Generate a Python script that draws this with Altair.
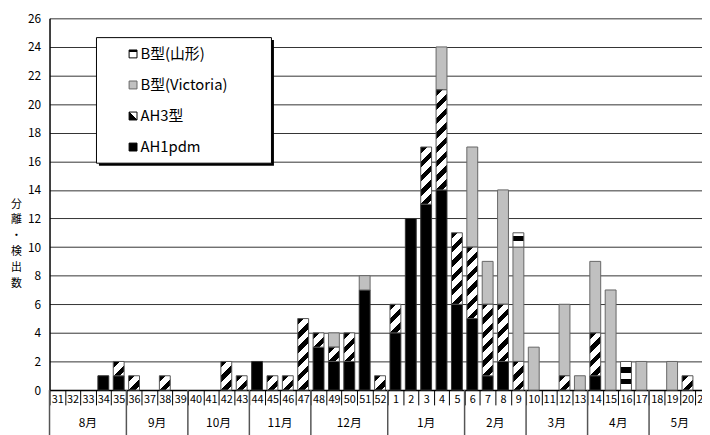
import altair as alt
import pandas as pd

FONT = "Noto Sans CJK JP"

# ---------------- data ----------------
weeks = ["31", "32", "33", "34", "35", "36", "37", "38", "39", "40", "41", "42",
         "43", "44", "45", "46", "47", "48", "49", "50", "51", "52",
         "1", "2", "3", "4", "5", "6", "7", "8", "9", "10", "11", "12", "13",
         "14", "15", "16", "17", "18", "19", "20", "21"]

ah1pdm = [0, 0, 0, 1, 1, 0, 0, 0, 0, 0, 0, 0, 0, 2, 0, 0, 0, 3, 2, 2, 7, 0,
          4, 12, 13, 14, 6, 5, 1, 2, 0, 0, 0, 0, 0, 1, 0, 0, 0, 0, 0, 0, 0]
ah3 = [0, 0, 0, 0, 1, 1, 0, 1, 0, 0, 0, 2, 1, 0, 1, 1, 5, 1, 1, 2, 0, 1,
       2, 0, 4, 7, 5, 5, 5, 4, 2, 0, 0, 1, 0, 3, 0, 0, 0, 0, 0, 1, 0]
victoria = [0, 0, 0, 0, 0, 0, 0, 0, 0, 0, 0, 0, 0, 0, 0, 0, 0, 0, 1, 0, 1, 0,
            0, 0, 0, 3, 0, 7, 3, 8, 8, 3, 0, 5, 1, 5, 7, 0, 2, 0, 2, 0, 0]
yamagata = [0, 0, 0, 0, 0, 0, 0, 0, 0, 0, 0, 0, 0, 0, 0, 0, 0, 0, 0, 0, 0, 0,
            0, 0, 0, 0, 0, 0, 0, 0, 1, 0, 0, 0, 0, 0, 0, 2, 0, 0, 0, 0, 0]

types = ["AH1pdm", "AH3", "Victoria", "Yamagata"]
series = [ah1pdm, ah3, victoria, yamagata]

months = ["8月", "9月", "10月", "11月", "12月", "1月", "2月", "3月", "4月", "5月"]
month_first = ["31", "36", "40", "44", "48", "1", "6", "10", "14", "18"]
month_len = [5, 4, 4, 4, 5, 5, 4, 4, 4, 4]

legend_labels = ["B型(山形)", "B型(Victoria)", "AH3型", "AH1pdm"]

y_ticks = [0, 2, 4, 6, 8, 10, 12, 14, 16, 18, 20, 22, 24, 26]

# ---------------- tables ----------------
rows = []
for ti, (t, vals) in enumerate(zip(types, series)):
    for w, n in zip(weeks, vals):
        rows.append({"week": w, "type": t, "n": n, "ord": ti})
df = pd.DataFrame(rows)

mrows = []
for m, f, L in zip(months, month_first, month_len):
    idx = weeks.index(f)
    mrows.append({"month": m, "first": f, "anchor": weeks[idx + 2], "len": L})
mdf = pd.DataFrame(mrows)

leg_df = pd.DataFrame({"label": legend_labels, "i": list(range(len(legend_labels)))})

# ---------------- layout / style ----------------
W, H = 660, 376
STEP = 15.55
XR = STEP * len(weeks)
BAR_W = 11
UNIT = H / 26.0


def hatch(v, period=UNIT, frac=0.45):
    w = BAR_W
    h = v * UNIT
    k = (w + h) * w / (w * w + h * h)
    n = (w + h) / period
    stops = []
    i = 0
    while i < n:
        a = i / n
        b = min((i + frac) / n, 1.0)
        c = min((i + 1) / n, 1.0)
        stops += [alt.GradientStop(color="black", offset=a),
                  alt.GradientStop(color="black", offset=b),
                  alt.GradientStop(color="white", offset=b),
                  alt.GradientStop(color="white", offset=c)]
        i += 1
    return alt.LinearGradient(gradient="linear", stops=stops,
                              x1=0, y1=0, x2=k, y2=k * h / w)


def bands(pattern):
    stops = []
    for col, a, b in pattern:
        stops += [alt.GradientStop(color=col, offset=a),
                  alt.GradientStop(color=col, offset=b)]
    return alt.LinearGradient(gradient="linear", stops=stops, x1=0, y1=0, x2=0, y2=1)


yam_fill = {
    1: bands([("white", 0, 0.2), ("black", 0.2, 0.6), ("white", 0.6, 1)]),
    2: bands([("white", 0, 0.2), ("black", 0.2, 0.4), ("white", 0.4, 0.6),
              ("black", 0.6, 0.8), ("white", 0.8, 1)]),
}

xscale = alt.Scale(domain=weeks, range=[0, XR], paddingInner=0, paddingOuter=0)
xaxis = alt.Axis(title=None, labelAngle=0, labelFont=FONT, labelFontSize=11,
                 labelColor="black", tickBand="extent", tickSize=15,
                 tickColor="black", tickWidth=1, labelPadding=-11,
                 domainColor="black", domainWidth=1.5, grid=False)
yscale = alt.Scale(domain=[0, 26], nice=False)
yaxis = alt.Axis(title=["分", "離", "・", "検", "出", "数"], values=y_ticks,
                 ticks=False, labelPadding=9, labelFont=FONT, labelFontSize=12,
                 labelColor="black", grid=True, gridColor="#333333",
                 gridWidth=1, domainColor="black", domainWidth=1.5,
                 titleAngle=0, titleAlign="center", titleBaseline="top",
                 titleX=-34, titleY=182, titleFont=FONT, titleFontSize=11,
                 titleFontWeight="normal", titleLineHeight=16, titleColor="black")


def X(field, bp=None):
    if bp is None:
        return alt.X(f"{field}:N", scale=xscale, axis=xaxis)
    return alt.X(f"{field}:N", scale=xscale, axis=xaxis, bandPosition=bp)


base = (alt.Chart(df)
        .transform_filter("datum.n > 0")
        .transform_stack(stack="n", groupby=["week"],
                         sort=[alt.SortField("ord", order="ascending")],
                         as_=["y0", "y1"]))

enc = dict(x=X("week"), y=alt.Y("y0:Q", scale=yscale, axis=yaxis), y2="y1:Q")

layers = []
layers.append(base.transform_filter("datum.type == 'AH1pdm'")
              .mark_bar(width=BAR_W, fill="black", stroke="#333333", strokeWidth=1)
              .encode(**enc))
layers.append(base.transform_filter("datum.type == 'Victoria'")
              .mark_bar(width=BAR_W, fill="#C0C0C0", stroke="#666666", strokeWidth=1)
              .encode(**enc))
for v in sorted(set(x for x in ah3 if x > 0)):
    layers.append(base.transform_filter(f"datum.type == 'AH3' && datum.n == {v}")
                  .mark_bar(width=BAR_W, fill=hatch(v), stroke="#555555", strokeWidth=1)
                  .encode(**enc))
for v in sorted(set(x for x in yamagata if x > 0)):
    layers.append(base.transform_filter(f"datum.type == 'Yamagata' && datum.n == {v}")
                  .mark_bar(width=BAR_W, fill=yam_fill[v], stroke="#555555", strokeWidth=1)
                  .encode(**enc))

# month separators and labels
mbase = alt.Chart(mdf)
layers.append(mbase.mark_rule(color="#555555", strokeWidth=1.5)
              .encode(x=X("first", 0), y=alt.value(H), y2=alt.value(H + 60)))
layers.append(mbase.transform_filter("datum.len == 5")
              .mark_text(font=FONT, fontSize=12, baseline="middle", color="black")
              .encode(x=X("anchor", 0.5), y=alt.value(H + 33), text="month:N"))
layers.append(mbase.transform_filter("datum.len == 4")
              .mark_text(font=FONT, fontSize=12, baseline="middle", color="black")
              .encode(x=X("anchor", 0), y=alt.value(H + 33), text="month:N"))

# legend box (manual, to show hatch patterns)
LX0, LX1, LY0, LY1 = 47.5, 224.5, 19.5, 146.5
one = alt.Chart(pd.DataFrame({"a": [0]}))
layers.append(one.mark_rect(fill="black").encode(
    x=alt.value(LX0 + 2.5), x2=alt.value(LX1 + 2.5),
    y=alt.value(LY0 + 2.5), y2=alt.value(LY1 + 2.5)))
layers.append(one.mark_rect(fill="white", stroke="black", strokeWidth=1).encode(
    x=alt.value(LX0), x2=alt.value(LX1), y=alt.value(LY0), y2=alt.value(LY1)))

ROW0, ROWSTEP = 36.0, 31.4
icon_fills = [
    bands([("black", 0, 0.2), ("white", 0.2, 1)]),
    "#C0C0C0",
    alt.LinearGradient(gradient="linear", x1=1, y1=0, x2=0, y2=1,
                       stops=[alt.GradientStop(color="white", offset=0),
                              alt.GradientStop(color="white", offset=0.5),
                              alt.GradientStop(color="black", offset=0.5),
                              alt.GradientStop(color="black", offset=1)]),
    "black",
]
icon_strokes = ["black", "#666666", "black", "black"]
for i, (f, s) in enumerate(zip(icon_fills, icon_strokes)):
    cy = ROW0 + ROWSTEP * i
    layers.append(one.mark_rect(fill=f, stroke=s, strokeWidth=1).encode(
        x=alt.value(80.5), x2=alt.value(88.5), y=alt.value(cy - 4), y2=alt.value(cy + 4)))
layers.append(alt.Chart(leg_df)
              .transform_calculate(py=f"{ROW0} + {ROWSTEP} * datum.i")
              .mark_text(align="left", baseline="middle", font=FONT, fontSize=15, color="black")
              .encode(x=alt.value(92), y=alt.Y("py:Q", scale=None, axis=None), text="label:N"))

chart = (alt.layer(*layers)
         .properties(width=W, height=H,
                     padding={"left": 42, "top": 8, "right": 0, "bottom": 43},
                     autosize=alt.AutoSizeParams(type="none"),
                     background="white")
         .configure_view(strokeWidth=0))

chart.save("out.html", embed_options={"renderer": "svg", "actions": False})
